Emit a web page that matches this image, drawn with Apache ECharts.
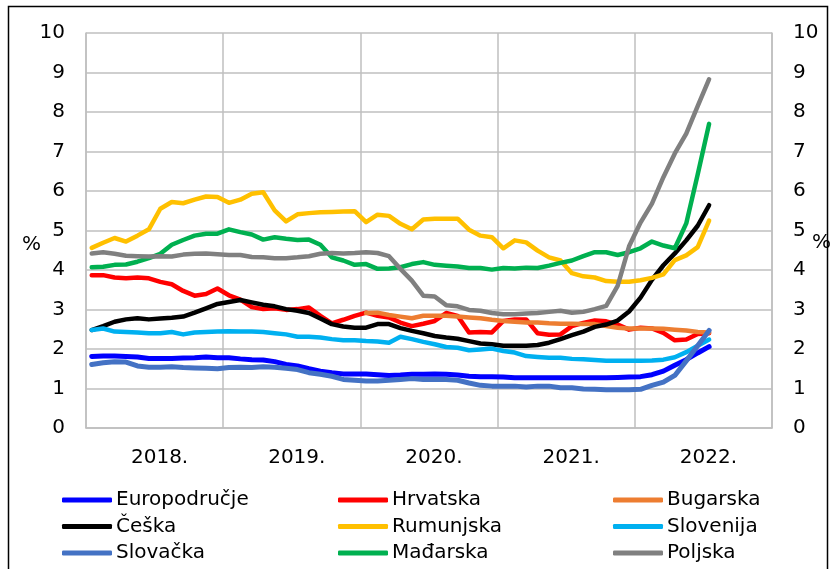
<!DOCTYPE html>
<html>
<head>
<meta charset="utf-8">
<script src="https://cdn.jsdelivr.net/npm/echarts@6/dist/echarts.min.js"></script>
<style>
  html, body { margin: 0; padding: 0; background: #fff; }
  #chart { width: 830px; height: 569px; }
</style>
</head>
<body>
<div id="chart"></div>
<script>
  // godine na osi x (svaka godina = 12 mjeseci)
  const years = ['2018.', '2019.', '2020.', '2021.', '2022.'];
  const months = [];
  years.forEach(y => { for (let m = 1; m <= 12; m++) months.push(y + m); });

  const yTicks = [0, 1, 2, 3, 4, 5, 6, 7, 8, 9, 10];

  // mjesečni podaci, siječanj 2018. - srpanj 2022.
  const europodrucje = [1.81,1.82,1.82,1.81,1.80,1.76,1.76,1.76,1.77,1.78,1.80,1.78,1.78,1.75,1.73,
    1.72,1.68,1.61,1.57,1.50,1.44,1.40,1.37,1.37,1.37,1.35,1.33,1.34,1.36,1.36,
    1.37,1.36,1.34,1.31,1.30,1.30,1.29,1.27,1.27,1.27,1.27,1.27,1.27,1.27,1.27,
    1.27,1.28,1.29,1.30,1.35,1.44,1.59,1.73,1.90,2.06];
  const hrvatska = [3.87,3.87,3.81,3.79,3.81,3.79,3.70,3.64,3.47,3.35,3.39,3.53,3.36,3.25,3.06,
    3.01,3.03,2.99,3.01,3.05,2.84,2.65,2.74,2.84,2.92,2.84,2.80,2.67,2.58,2.64,
    2.71,2.91,2.84,2.42,2.43,2.42,2.71,2.75,2.75,2.40,2.36,2.37,2.58,2.66,2.72,
    2.70,2.62,2.49,2.54,2.52,2.41,2.22,2.24,2.38,2.40];
  const bugarska = [null,null,null,null,null,null,null,null,null,null,null,null,null,null,null,
    null,null,null,null,null,null,null,null,null,2.91,2.92,2.86,2.82,2.78,2.84,
    2.84,2.84,2.82,2.80,2.78,2.74,2.71,2.69,2.67,2.67,2.65,2.64,2.64,2.63,2.63,
    2.58,2.54,2.52,2.52,2.52,2.51,2.49,2.47,2.43,2.42];
  const ceska = [2.48,2.58,2.69,2.75,2.78,2.75,2.77,2.79,2.82,2.92,3.03,3.14,3.19,3.24,3.18,
    3.12,3.08,3.01,2.97,2.91,2.77,2.63,2.57,2.54,2.54,2.63,2.63,2.53,2.46,2.40,
    2.33,2.29,2.26,2.20,2.14,2.12,2.08,2.08,2.08,2.10,2.16,2.25,2.35,2.44,2.56,
    2.62,2.72,2.95,3.30,3.75,4.12,4.42,4.75,5.12,5.64];
  const rumunjska = [4.56,4.69,4.81,4.72,4.87,5.03,5.55,5.72,5.69,5.78,5.86,5.85,5.70,5.78,5.93,
    5.97,5.51,5.23,5.41,5.44,5.46,5.47,5.48,5.49,5.21,5.40,5.37,5.17,5.03,5.28,
    5.30,5.30,5.30,5.02,4.87,4.83,4.55,4.75,4.70,4.49,4.32,4.24,3.92,3.84,3.81,
    3.72,3.70,3.70,3.74,3.80,3.89,4.25,4.37,4.58,5.25];
  const slovenija = [2.48,2.52,2.44,2.43,2.42,2.40,2.40,2.43,2.37,2.42,2.43,2.44,2.45,2.44,2.44,
    2.43,2.40,2.37,2.31,2.31,2.29,2.25,2.22,2.22,2.20,2.19,2.16,2.31,2.25,2.18,
    2.12,2.05,2.03,1.97,1.99,2.01,1.95,1.91,1.82,1.80,1.78,1.78,1.75,1.74,1.72,
    1.70,1.70,1.70,1.70,1.71,1.73,1.79,1.92,2.08,2.24];
  const slovacka = [1.61,1.65,1.68,1.67,1.57,1.54,1.54,1.55,1.53,1.52,1.51,1.50,1.53,1.54,1.53,
    1.55,1.54,1.51,1.48,1.40,1.36,1.31,1.23,1.21,1.19,1.19,1.21,1.23,1.25,1.23,
    1.23,1.23,1.21,1.14,1.08,1.06,1.06,1.06,1.04,1.06,1.06,1.02,1.02,0.99,0.98,
    0.97,0.97,0.97,0.98,1.08,1.16,1.33,1.70,2.08,2.47];
  const madarska = [4.07,4.08,4.13,4.14,4.21,4.30,4.41,4.64,4.76,4.87,4.92,4.92,5.03,4.96,4.90,
    4.77,4.83,4.79,4.76,4.77,4.64,4.32,4.24,4.13,4.15,4.03,4.04,4.07,4.15,4.20,
    4.13,4.11,4.09,4.05,4.05,4.01,4.05,4.04,4.06,4.05,4.11,4.18,4.24,4.35,4.45,
    4.45,4.38,4.45,4.55,4.72,4.62,4.55,5.18,6.42,7.70];
  const poljska = [4.42,4.45,4.41,4.36,4.35,4.34,4.35,4.34,4.39,4.41,4.42,4.40,4.38,4.38,4.33,
    4.32,4.30,4.30,4.32,4.35,4.41,4.43,4.42,4.43,4.45,4.43,4.35,4.03,3.73,3.35,
    3.33,3.11,3.08,2.99,2.97,2.91,2.88,2.88,2.90,2.91,2.94,2.97,2.92,2.94,3.01,
    3.09,3.60,4.60,5.20,5.68,6.35,6.95,7.45,8.15,8.83];

  const seriesList = [
    { name: 'Europodručje', data: europodrucje, color: '#0000FF', width: 5 },
    { name: 'Hrvatska', data: hrvatska, color: '#FF0000', width: 4.5 },
    { name: 'Bugarska', data: bugarska, color: '#ED7D31', width: 4.5 },
    { name: 'Češka', data: ceska, color: '#000000', width: 4.5 },
    { name: 'Rumunjska', data: rumunjska, color: '#FFC000', width: 4.5 },
    { name: 'Slovenija', data: slovenija, color: '#00B0F0', width: 4.5 },
    { name: 'Slovačka', data: slovacka, color: '#4472C4', width: 5 },
    { name: 'Mađarska', data: madarska, color: '#00B050', width: 4.5 },
    { name: 'Poljska', data: poljska, color: '#808080', width: 4.5 }
  ];

  const font = 'DejaVu Sans';
  const gridColor = '#BFBFBF';

  const legendBase = {
    orient: 'vertical',
    top: 490,
    padding: 0,
    itemWidth: 50,
    itemHeight: 5,
    itemGap: 6.5,
    icon: 'roundRect',
    textStyle: { fontFamily: font, fontSize: 20, lineHeight: 20, color: '#000', padding: [0, 0, 0, -1] }
  };

  const myChart = echarts.init(document.getElementById('chart'));
  const option = {
    animation: false,
    backgroundColor: '#fff',
    grid: { left: 86, right: 58, top: 33, bottom: 141 },
    legend: [
      Object.assign({}, legendBase, { left: 62, data: ['Europodručje', 'Češka', 'Slovačka'] }),
      Object.assign({}, legendBase, { left: 338, data: ['Hrvatska', 'Rumunjska', 'Mađarska'] }),
      Object.assign({}, legendBase, { left: 613, data: ['Bugarska', 'Slovenija', 'Poljska'] })
    ],
    xAxis: [{
      type: 'category',
      position: 'top',
      boundaryGap: true,
      data: months,
      axisLine: { show: false },
      axisTick: { show: false },
      axisLabel: { show: false },
      splitLine: { show: false }
    }, {
      type: 'category',
      position: 'bottom',
      boundaryGap: true,
      data: years,
      axisLine: { show: true, lineStyle: { color: gridColor, width: 1.5 } },
      axisTick: { show: false },
      axisLabel: { fontFamily: font, fontSize: 20, color: '#000', margin: 20, padding: [0, 0, 0, 10] },
      splitLine: { show: true, lineStyle: { color: gridColor, width: 1.5 } }
    }],
    yAxis: [{
      type: 'value',
      min: yTicks[0],
      max: yTicks[yTicks.length - 1],
      interval: 1,
      position: 'left',
      axisLine: { show: true, lineStyle: { color: gridColor, width: 1.5 } },
      axisTick: { show: false },
      axisLabel: { fontFamily: font, fontSize: 20, color: '#000', margin: 21 },
      splitLine: { show: true, lineStyle: { color: gridColor, width: 1.5 } }
    }, {
      type: 'value',
      min: yTicks[0],
      max: yTicks[yTicks.length - 1],
      interval: 1,
      position: 'right',
      axisLine: { show: true, lineStyle: { color: gridColor, width: 1.5 } },
      axisTick: { show: false },
      axisLabel: { fontFamily: font, fontSize: 20, color: '#000', margin: 21 },
      splitLine: { show: false }
    }],
    graphic: [
      { type: 'rect', shape: { x: 8.5, y: 6.5, width: 819, height: 580 }, style: { fill: null, stroke: '#000', lineWidth: 1.5 }, silent: true },
      { type: 'text', left: 22, top: 235, style: { text: '%', fontFamily: font, fontSize: 20, fill: '#000' } },
      { type: 'text', left: 812, top: 233, style: { text: '%', fontFamily: font, fontSize: 20, fill: '#000' } }
    ],
    series: seriesList.map(s => ({
      name: s.name,
      type: 'line',
      xAxisIndex: 0,
      yAxisIndex: 0,
      data: s.data,
      showSymbol: false,
      symbol: 'none',
      connectNulls: false,
      color: s.color,
      lineStyle: { color: s.color, width: s.width, cap: 'round', join: 'round' }
    }))
  };
  myChart.setOption(option);
</script>
</body>
</html>
